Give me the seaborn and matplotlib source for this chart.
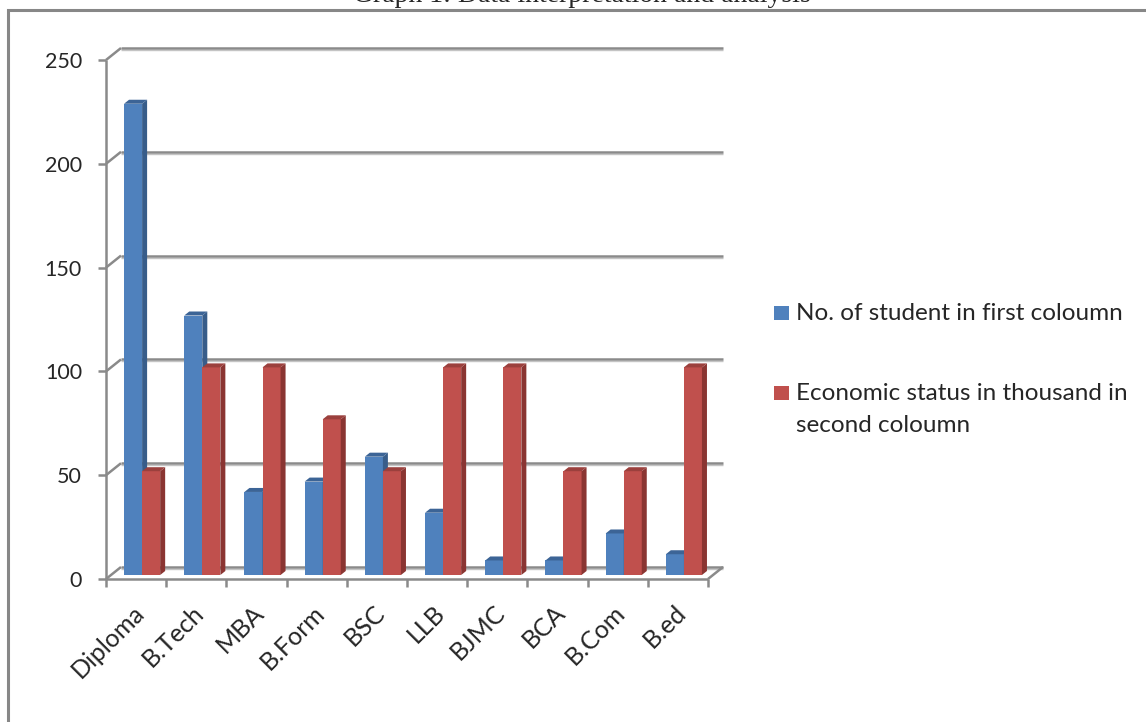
import numpy as np
import pandas as pd
import matplotlib
matplotlib.use("Agg")
import matplotlib.pyplot as plt
from matplotlib.patches import Polygon, Rectangle
from matplotlib.lines import Line2D
from matplotlib.transforms import ScaledTranslation
import seaborn as sns

# ---------------- data ----------------
courses = ["Diploma", "B.Tech", "MBA", "B.Form", "BSC", "LLB", "BJMC", "BCA", "B.Com", "B.ed"]
students = [227, 125, 40, 45, 57, 30, 7, 7, 20, 10]
economic = [50, 100, 100, 75, 50, 100, 100, 50, 50, 100]
series_names = ["No. of student in first coloumn",
                "Economic status in thousand in second coloumn"]
yticks = [0, 50, 100, 150, 200, 250]
title = "Graph 1: Data interpretation and analysis"

blue, red = "#4F81BD", "#C0504D"
blue_side, blue_top = "#385D8A", "#3C6496"
red_side, red_top = "#8A3532", "#9B403D"

df = pd.DataFrame({
    "course": courses * 2,
    "value": students + economic,
    "series": [series_names[0]] * len(courses) + [series_names[1]] * len(courses),
})

sns.set_style("white")
plt.rcParams["font.family"] = ["Lato", "DejaVu Sans"]

W, H = 1146, 722
fig = plt.figure(figsize=(W / 100, H / 100), dpi=100)
ax = fig.add_axes([112 / W, (H - 575) / H, 602 / W, 519 / H])

sns.barplot(data=df, x="course", y="value", hue="series", palette=[blue, red],
            width=0.6, gap=0, saturation=1, legend=False, linewidth=0, ax=ax)
ax.set_xlim(-0.5, len(courses) - 0.5)
ax.set_ylim(0, 250)
for s in ax.spines.values():
    s.set_visible(False)
ax.set_xlabel("")
ax.set_ylabel("")
ax.grid(False)
ax.patch.set_alpha(0)

ax.tick_params(axis="x", length=0, pad=24.5, labelsize=18)
ax.tick_params(axis="y", length=0, pad=21.6, labelsize=15.5)
ax.set_xticks(range(len(courses)), labels=courses, rotation=45, ha="right",
              va="center", rotation_mode="anchor")
ax.set_yticks(yticks)
for lbl in ax.get_xticklabels():
    lbl.set_transform(lbl.get_transform() + ScaledTranslation(-2 / 100, 0, fig.dpi_scale_trans))
for lbl in ax.get_yticklabels():
    lbl.set_transform(lbl.get_transform() + ScaledTranslation(0, -4 / 100, fig.dpi_scale_trans))


def to_fig(X, Y):
    return (X / W, Y / H)


def disp(xd, yd):
    return ax.transData.transform((xd, yd))


gridc = "#8A8A8A"
shadow = "#C4C4C4"


def line(pts, color=gridc, lw=1.8, z=1):
    xs = [to_fig(*p)[0] for p in pts]
    ys = [to_fig(*p)[1] for p in pts]
    ax.add_line(Line2D(xs, ys, transform=fig.transFigure, color=color, lw=lw,
                       clip_on=False, zorder=z, solid_capstyle="butt"))


x_left = disp(-0.5, 0)[0]
x_right = disp(len(courses) - 0.5, 0)[0]
bx, by = 9, 8      # back wall offset (pixels)
fx, fy = -6, -4    # front offset (pixels)

for v in yticks:
    Y = disp(0, v)[1]
    line([(x_left + bx, Y + by - 2), (x_right + bx, Y + by - 2)], color=shadow, lw=1.0, z=0.9)
    line([(x_left + bx, Y + by), (x_right + bx, Y + by)])
    line([(x_left + fx, Y + fy), (x_left + bx, Y + by)])
    line([(x_left + fx - 8, Y + fy), (x_left + fx, Y + fy)])

Y0 = disp(0, 0)[1]
Ytop = disp(0, 250)[1]
line([(x_left + fx, Y0 + fy), (x_left + fx, Ytop + fy)])
line([(x_left + fx, Y0 + fy), (x_right + fx, Y0 + fy)])
line([(x_right + fx, Y0 + fy), (x_right + bx, Y0 + by)])
for k in range(len(courses) + 1):
    Xk = disp(k - 0.5, 0)[0] + fx
    line([(Xk, Y0 + fy), (Xk, Y0 + fy - 8)])

# 3D faces for each bar
dx, dy = 5, 4
for p in ax.patches:
    x0 = p.get_x()
    w = p.get_width()
    h = p.get_height()
    is_blue = np.allclose(p.get_facecolor()[:3], matplotlib.colors.to_rgb(blue), atol=0.02)
    side_c, top_c = (blue_side, blue_top) if is_blue else (red_side, red_top)
    z = 3 if is_blue else 5
    p.set_zorder(z)
    (Xl, Yb) = disp(x0, 0)
    (Xr, Yt) = disp(x0 + w, h)
    side = [to_fig(Xr, Yb), to_fig(Xr, Yt), to_fig(Xr + dx, Yt + dy), to_fig(Xr + dx, Yb + dy)]
    top = [to_fig(Xl, Yt), to_fig(Xr, Yt), to_fig(Xr + dx, Yt + dy), to_fig(Xl + dx, Yt + dy)]
    ax.add_patch(Polygon(side, closed=True, transform=fig.transFigure, facecolor=side_c,
                         edgecolor="none", clip_on=False, zorder=z + 0.5))
    ax.add_patch(Polygon(top, closed=True, transform=fig.transFigure, facecolor=top_c,
                         edgecolor="none", clip_on=False, zorder=z + 0.5))

# legend (manual placement)
fig.patches.append(Rectangle(to_fig(774, H - 320), 15 / W, 14 / H, transform=fig.transFigure,
                             facecolor=blue, edgecolor="none"))
fig.patches.append(Rectangle(to_fig(774, H - 400), 15 / W, 14 / H, transform=fig.transFigure,
                             facecolor=red, edgecolor="none"))
fs_leg = 17.5
fig.text(796 / W, (H - 320) / H, series_names[0], ha="left", va="baseline", fontsize=fs_leg)
fig.text(796 / W, (H - 400) / H, "Economic status in thousand in", ha="left", va="baseline", fontsize=fs_leg)
fig.text(796 / W, (H - 432) / H, "second coloumn", ha="left", va="baseline", fontsize=fs_leg)

# title (cut at the top edge, as in the reference) and frame
fig.text(582 / W, 1 - 1.5 / H, title, ha="center", va="baseline",
         family=["Liberation Serif", "DejaVu Serif"], fontsize=20)
fig.patches.append(Rectangle((8 / W, -0.1), 1.5, (H - 10) / H + 0.1, transform=fig.transFigure,
                             fill=False, edgecolor="#878787", lw=2.2))

fig.savefig("out.png", dpi=100)
